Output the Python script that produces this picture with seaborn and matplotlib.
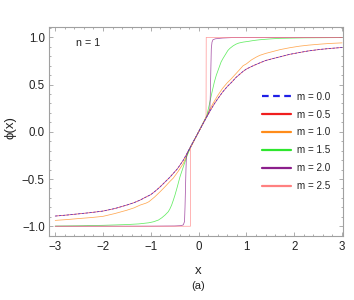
import numpy as np
import pandas as pd
import matplotlib
matplotlib.use("Agg")
import matplotlib.pyplot as plt
from matplotlib.ticker import MultipleLocator
import seaborn as sns

# ---- data ----
m_labels = ["m = 0.0", "m = 0.5", "m = 1.0", "m = 1.5", "m = 2.0", "m = 2.5"]
line_colors = ["#1f1fe6", "#f01e1e", "#ff8c1a", "#2ee62e", "#8c1f8c", "#ff8080"]

x_m00 = [-3, -2.75, -2.5, -2.25, -2, -1.75, -1.5, -1.35, -1.225, -1.1, -1.0, -0.9, -0.8,
         -0.7, -0.6, -0.53, -0.45, -0.38, -0.32, -0.25, -0.15, -0.07, 0,
         0.07, 0.15, 0.25, 0.32, 0.4, 0.5, 0.6, 0.7, 0.78, 0.86, 0.93, 1.0, 1.1, 1.2,
         1.28, 1.4, 1.55, 1.7, 1.9, 2.11, 2.3, 2.53, 2.75, 3.0]
y_m00 = [-0.892, -0.881, -0.868, -0.855, -0.839, -0.812, -0.775, -0.75, -0.723, -0.69,
         -0.665, -0.625, -0.58, -0.53, -0.48, -0.44, -0.395, -0.345, -0.30, -0.235, -0.14,
         -0.066, 0,
         0.066, 0.14, 0.23, 0.29, 0.35, 0.42, 0.48, 0.53, 0.575, 0.61, 0.64, 0.665, 0.69,
         0.713, 0.73, 0.755, 0.775, 0.794, 0.82, 0.84, 0.857, 0.872, 0.883, 0.893]
x_m05 = list(x_m00)
y_m05 = list(y_m00)

x_m10 = [-3, -2.75, -2.5, -2.25, -2, -1.75, -1.5, -1.35, -1.225, -1.1, -1.04, -0.92, -0.807,
         -0.7, -0.6, -0.53, -0.43, -0.32, -0.24, -0.15, -0.07, 0,
         0.07, 0.15, 0.22, 0.3, 0.4, 0.5, 0.6, 0.68, 0.77, 0.86, 0.93, 1.0, 1.1, 1.2, 1.28,
         1.4, 1.55, 1.7, 1.9, 2.11, 2.3, 2.53, 2.75, 3.0]
y_m10 = [-0.938, -0.929, -0.918, -0.908, -0.895, -0.865, -0.83, -0.805, -0.776, -0.755,
         -0.74, -0.69, -0.635, -0.58, -0.525, -0.49, -0.42, -0.335, -0.24, -0.15, -0.07, 0,
         0.07, 0.15, 0.225, 0.30, 0.385, 0.46, 0.52, 0.56, 0.61, 0.66, 0.70, 0.72, 0.76,
         0.79, 0.81, 0.83, 0.85, 0.87, 0.89, 0.907, 0.918, 0.928, 0.936, 0.942]

x_m15 = [-3, -2.5, -2, -1.5, -1.25, -1.04, -0.94, -0.84, -0.77, -0.7, -0.635, -0.6, -0.565,
         -0.53, -0.495, -0.45, -0.39, -0.32, -0.25, -0.2, -0.15, -0.07, 0,
         0.07, 0.17, 0.22, 0.28, 0.33, 0.37, 0.42, 0.47, 0.51, 0.55, 0.61, 0.65, 0.72, 0.78,
         0.84, 0.93, 1.03, 1.15, 1.28, 1.5, 1.7, 2.2, 3.0]
y_m15 = [-0.998, -0.995, -0.99, -0.982, -0.975, -0.963, -0.952, -0.934, -0.91, -0.88,
         -0.846, -0.815, -0.776, -0.725, -0.67, -0.59, -0.476, -0.37, -0.265, -0.2, -0.14,
         -0.066, 0,
         0.07, 0.17, 0.28, 0.42, 0.53, 0.60, 0.67, 0.74, 0.777, 0.81, 0.86, 0.882, 0.91,
         0.928, 0.94, 0.95, 0.957, 0.967, 0.975, 0.984, 0.99, 0.995, 0.998]

x_m20 = [-3, -1, -0.5, -0.36, -0.32, -0.295, -0.285, -0.275, -0.265, -0.255, -0.23, -0.2, 0,
         0.2, 0.235, 0.245, 0.255, 0.265, 0.28, 0.30, 0.35, 0.5, 0.7, 3.0]
y_m20 = [-1.0, -0.999, -0.997, -0.993, -0.985, -0.95, -0.8, -0.6, -0.4, -0.26, -0.215, -0.19, 0,
         0.19, 0.24, 0.4, 0.65, 0.88, 0.95, 0.975, 0.985, 0.993, 0.998, 1.0]

x_m25 = [-3, -0.172, -0.168, 0, 0.155, 0.159, 3.0]
y_m25 = [-1.0, -1.0, -0.16, 0, 0.15, 1.0, 1.0]

xs = [x_m00, x_m05, x_m10, x_m15, x_m20, x_m25]
ys = [y_m00, y_m05, y_m10, y_m15, y_m20, y_m25]

frames = [pd.DataFrame({"x": xv, "phi": yv, "m": lab}) for xv, yv, lab in zip(xs, ys, m_labels)]
df = pd.concat(frames, ignore_index=True)

# ---- styling ----
sns.set_style("ticks")
plt.rcParams["font.family"] = ["Liberation Sans", "DejaVu Sans"]

fig = plt.figure(figsize=(3.54, 3.0), dpi=100)
ax = fig.add_axes([49 / 354, 1 - 235.7 / 300, 294 / 354, 208.7 / 300])

palette = dict(zip(m_labels, line_colors))
dashes = {lab: "" for lab in m_labels}
dashes["m = 0.0"] = (3, 2)
sns.lineplot(data=df, x="x", y="phi", hue="m", style="m", hue_order=m_labels,
             style_order=m_labels, palette=palette, dashes=dashes, sort=False,
             estimator=None, linewidth=0.55, legend=False, ax=ax)
for ln in ax.lines[:6]:
    ln.set_alpha(0.75)
ax.lines[0].set_zorder(3)

ax.set_xlim(-3.13, 3.02)
ax.set_ylim(-1.10, 1.11)

ax.xaxis.set_major_locator(MultipleLocator(1))
ax.xaxis.set_minor_locator(MultipleLocator(0.2))
ax.yaxis.set_major_locator(MultipleLocator(0.5))
ax.yaxis.set_minor_locator(MultipleLocator(0.1))

spine_col = "#a0a0a0"
for s in ax.spines.values():
    s.set_color(spine_col)
    s.set_linewidth(0.8)
    s.set_visible(True)
ax.tick_params(which="both", direction="in", top=True, right=True,
               color=spine_col, width=0.6, labelsize=8.3, labelcolor="#222222")
ax.tick_params(which="major", length=3.2)
ax.tick_params(which="minor", length=1.6)
ax.tick_params(axis="x", which="major", pad=4)
ax.tick_params(axis="y", which="major", pad=3)

ax.set_xlabel("x", fontsize=9.5, color="#222222")
ax.xaxis.set_label_coords(0.508, -0.14)
ax.set_ylabel("ϕ(x)", fontsize=9.5, color="#222222")
ax.yaxis.label.set_va("center")
ax.yaxis.set_label_coords(-0.13, 0.52)

ax.text(0.508, -0.24, "(a)", transform=ax.transAxes, ha="center", va="center",
        fontsize=8, color="#222222")
ax.text(-2.31, 0.94, "n = 1", ha="center", va="center", fontsize=7.7, color="#222222")

leg = ax.legend(ax.lines[:6], m_labels, loc="center left",
                bbox_to_anchor=(0.7255, 0.452), frameon=False, fontsize=7.1,
                handlelength=2.95, handletextpad=0.6, labelspacing=0.8,
                borderpad=0, borderaxespad=0)
for h in leg.legend_handles:
    h.set_linewidth(1.6)
    h.set_alpha(1.0)
for t in leg.get_texts():
    t.set_color("#222222")

fig.savefig("out.png", dpi=100)
